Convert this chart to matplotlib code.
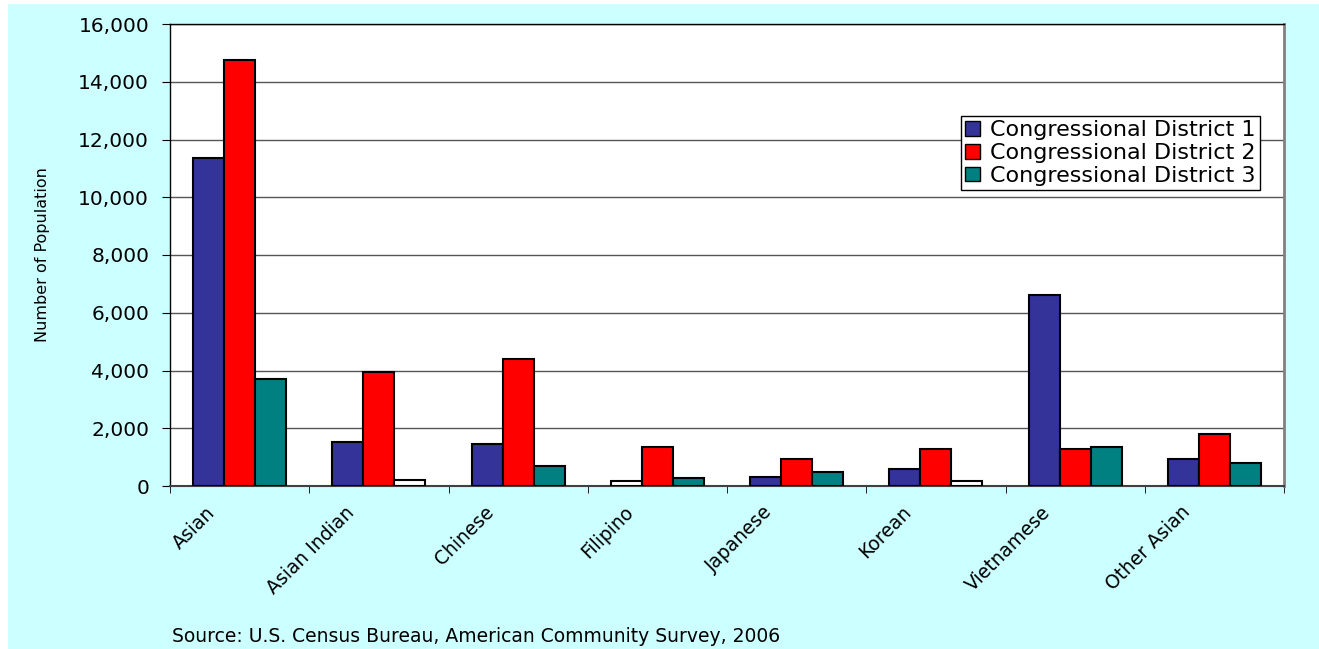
import numpy as np
import matplotlib
matplotlib.use("Agg")
import matplotlib.pyplot as plt
from matplotlib.patches import Rectangle
from matplotlib.ticker import FuncFormatter, FixedLocator
import matplotlib.transforms as mtransforms

CATEGORIES = ["Asian", "Asian Indian", "Chinese", "Filipino", "Japanese",
              "Korean", "Vietnamese", "Other Asian"]
CD1 = [11350, 1530, 1460, 170, 320, 590, 6600, 950]
CD2 = [14760, 3950, 4400, 1360, 920, 1280, 1280, 1790]
CD3 = [3690, 200, 690, 290, 500, 170, 1350, 810]
SERIES = ["Congressional District 1", "Congressional District 2",
          "Congressional District 3"]
COLORS = ["#333399", "#FF0000", "#008080"]
SOURCE = "Source: U.S. Census Bureau, American Community Survey, 2006"

W, H = 1319, 649
fig = plt.figure(figsize=(W / 100, H / 100), dpi=100)
fig.patch.set_facecolor("white")
fig.add_artist(Rectangle((8 / W, 0), 1 - 8 / W, 1 - 4 / H,
                         transform=fig.transFigure, facecolor="#CCFFFF",
                         edgecolor="none", zorder=0))

ax = fig.add_axes([170 / W, 1 - 486 / H, 1114 / W, 462 / H])
ax.set_facecolor("white")

x = np.arange(len(CATEGORIES)) + 0.5
bw = 0.223
for j, (vals, col, name) in enumerate(zip([CD1, CD2, CD3], COLORS, SERIES)):
    # very small bars come out hollow
    faces = [col if v >= 250 else "white" for v in vals]
    ax.bar(x + (j - 1) * bw, vals, width=bw, color=faces, edgecolor="black",
           linewidth=1.5, zorder=3)
    ax.bar([0], [0], color=col, edgecolor="black", linewidth=1, label=name)

ax.set_xlim(0, len(CATEGORIES))
ax.set_ylim(0, 16000)
ax.set_yticks(np.arange(0, 16001, 2000))
ax.yaxis.set_major_formatter(FuncFormatter(lambda v, p: f"{int(v):,}"))
ax.grid(axis="y", color="#555555", linewidth=1, zorder=0)
ax.set_axisbelow(True)

ax.set_xticks(x)
ax.set_xticklabels(CATEGORIES, rotation=45, ha="right", va="top",
                   rotation_mode="anchor", fontsize=13.5)
ax.xaxis.set_minor_locator(FixedLocator(np.arange(0, len(CATEGORIES) + 1)))
ax.tick_params(axis="x", which="major", length=0, pad=12)
ax.tick_params(axis="x", which="minor", length=5, direction="out", color="black")
ax.tick_params(axis="y", length=6, direction="out", labelsize=14.5, pad=9)
shift = mtransforms.ScaledTranslation(-0.34, 0, fig.dpi_scale_trans)
for lab in ax.get_xticklabels():
    lab.set_transform(lab.get_transform() + shift)

for side in ["left", "top"]:
    ax.spines[side].set_color("black")
    ax.spines[side].set_linewidth(1)
ax.spines["bottom"].set_color("#404040")
ax.spines["bottom"].set_linewidth(1.5)
ax.spines["right"].set_color("#808080")
ax.spines["right"].set_linewidth(2)

ax.set_ylabel("Number of Population", fontsize=11.5)
ax.yaxis.set_label_coords(-0.108, 0.5)

leg = fig.legend(loc="upper left", bbox_to_anchor=(961 / W, 1 - 116 / H),
                 borderaxespad=0, fontsize=16, frameon=True, fancybox=False,
                 edgecolor="black", framealpha=1, handlelength=0.65,
                 handleheight=0.65, handletextpad=0.45, labelspacing=0.12,
                 borderpad=0.2)
leg.get_frame().set_linewidth(1)

fig.text(172 / W, 1 - 637 / H, SOURCE, fontsize=13.5, va="center", ha="left")

fig.savefig("out.png", dpi=100)
